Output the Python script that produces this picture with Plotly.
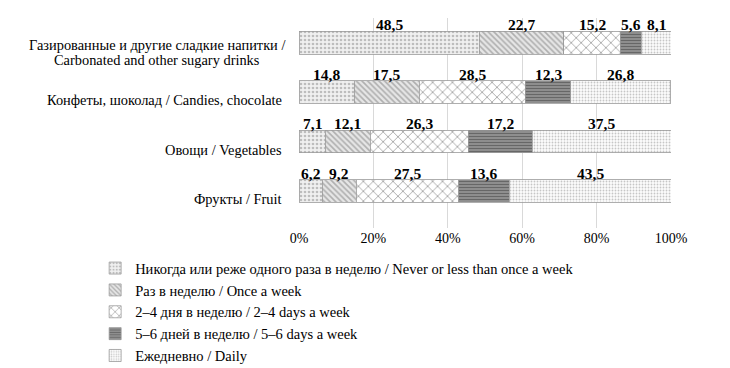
import plotly.graph_objects as go

categories = [
    "Газированные и другие сладкие напитки /<br>Carbonated and other sugary drinks",
    "Конфеты, шоколад / Candies, chocolate",
    "Овощи / Vegetables",
    "Фрукты / Fruit",
]
series_names = [
    "Никогда или реже одного раза в неделю / Never or less than once a week",
    "Раз в неделю / Once a week",
    "2–4 дня в неделю / 2–4 days a week",
    "5–6 дней в неделю / 5–6 days a week",
    "Ежедневно / Daily",
]
never = [48.5, 14.8, 7.1, 6.2]
once = [22.7, 17.5, 12.1, 9.2]
days24 = [15.2, 28.5, 26.3, 27.5]
days56 = [5.6, 12.3, 17.2, 13.6]
daily = [8.1, 26.8, 37.5, 43.5]
tick_vals = [0, 20, 40, 60, 80, 100]
tick_text = ["0%", "20%", "40%", "60%", "80%", "100%"]

series = [never, once, days24, days56, daily]
styles = [
    dict(shape=".", fgcolor="#8a8a8a", bgcolor="#f0f0f0", size=4, solidity=0.35),
    dict(shape="\\", fgcolor="#777777", bgcolor="#e6e6e6", size=4, solidity=0.4),
    dict(shape="x", fgcolor="#555555", bgcolor="#ffffff", size=7, solidity=0.25),
    dict(shape="-", fgcolor="#333333", bgcolor="#9a9a9a", size=3, solidity=0.5),
    dict(shape=".", fgcolor="#8f8f8f", bgcolor="#fcfcfc", size=3, solidity=0.3),
]

ypos = list(range(len(categories) - 1, -1, -1))  # top to bottom

fig = go.Figure()
for i, (name, vals) in enumerate(zip(series_names, series)):
    fig.add_trace(go.Bar(
        y=ypos, x=vals, orientation="h", name=name,
        legendgroup=f"g{i}",
        width=0.46,
        marker=dict(color=styles[i]["bgcolor"], pattern=styles[i],
                    line=dict(color="#9a9a9a", width=0.8)),
        hoverinfo="skip",
    ))

font_fam = "Times New Roman, Liberation Serif, serif"
annotations = []
for c in range(len(categories)):
    cum = 0.0
    for vals in series:
        v = vals[c]
        annotations.append(dict(
            x=cum + v / 2, y=ypos[c] + 0.36, xref="x", yref="y",
            text=f"<b>{str(v).replace('.', ',')}</b>", showarrow=False,
            yanchor="middle", font=dict(family=font_fam, size=15.5, color="black"),
        ))
        cum += v
    lines = categories[c].split("<br>")
    n = len(lines)
    if n == 1:
        annotations.append(dict(
            x=-0.04, y=ypos[c], xref="paper", yref="y", text=lines[0],
            showarrow=False, xanchor="right", yanchor="middle", yshift=-8,
            font=dict(family=font_fam, size=14.4, color="black"),
        ))
    else:
        for k, line in enumerate(lines):
            annotations.append(dict(
                x=-0.383, y=ypos[c], xref="paper", yref="y", text=line,
                showarrow=False, xanchor="center", yanchor="middle",
                yshift=-10 - (k - (n - 1) / 2) * 15,
                font=dict(family=font_fam, size=14.4, color="black"),
            ))

fig.update_layout(
    width=730, height=368,
    margin=dict(l=299, r=59, t=18, b=140, autoexpand=False),
    paper_bgcolor="white", plot_bgcolor="white",
    barmode="stack",
    showlegend=True,
    legend=dict(x=-0.548, y=-0.115, xanchor="left", yanchor="top",
                font=dict(family=font_fam, size=14.5, color="black"),
                tracegroupgap=1, itemwidth=30, traceorder="normal"),
    xaxis=dict(range=[0, 100], tickvals=tick_vals, ticktext=tick_text,
               showgrid=True, gridcolor="#d9d9d9", gridwidth=1,
               zeroline=False, showline=False,
               tickfont=dict(family=font_fam, size=14, color="black")),
    yaxis=dict(range=[-0.75, 3.5], showticklabels=False, showgrid=False,
               zeroline=False, showline=False),
    annotations=annotations,
    font=dict(family=font_fam),
)

fig.write_html("out.html", config={"displayModeBar": False},
               post_script="document.body.style.margin='0';document.body.style.padding='0';")
